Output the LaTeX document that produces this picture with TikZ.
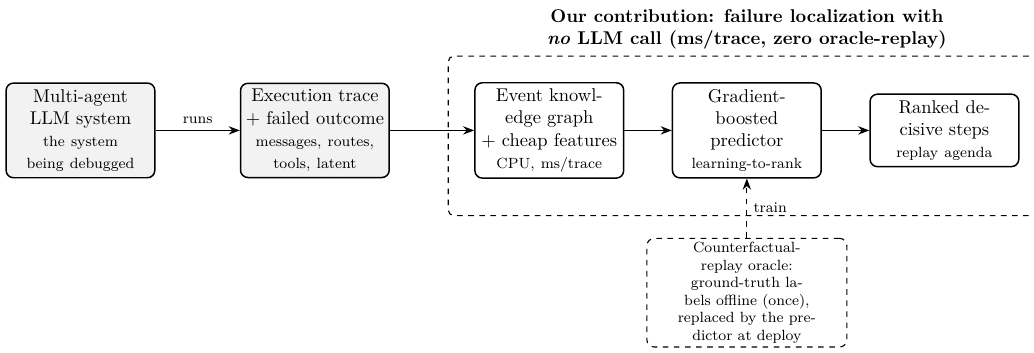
\documentclass[tikz,border=0pt]{standalone}
\usepackage{xcolor}
\usepackage{tikz}
\usetikzlibrary{arrows.meta, positioning, fit}

\begin{document}
\begin{tikzpicture}[
  stage/.style={draw, thick, rounded corners=4pt, align=center, text width=2.65cm,
    inner xsep=2.5pt, inner ysep=3.3pt},
  given/.style={stage, fill=gray!10},
  flow/.style={-{Stealth[length=6pt,width=4.5pt]}, thick}]
  \useasboundingbox (-43.5pt,70.5pt) rectangle (515.5pt,-120.3pt);
  \node[given] (sys) at (0,0) {Multi-agent LLM system\\{\footnotesize the system being debugged}};
  \node[given, right=1.6cm of sys] (trace) {Execution trace\\+ failed outcome\\{\footnotesize messages, routes, tools, latent}};
  \node[stage, right=1.6cm of trace] (ekg) {Event knowledge graph\\+ cheap features\\{\footnotesize CPU, ms/trace}};
  \node[stage, right=0.9cm of ekg] (pred) {Gradient-boosted predictor\\{\footnotesize learning-to-rank}};
  \node[stage, right=0.9cm of pred] (rank) {Ranked decisive steps\\{\footnotesize replay agenda}};
  \coordinate[below=6pt of pred] (floor);
  \node[draw, dashed, semithick, rounded corners=3pt, inner sep=14pt, fit=(ekg)(rank)(floor),
    label={[align=center, font=\bfseries]above:Our contribution: failure localization with\\\textit{no} LLM call (ms/trace, zero oracle-replay)}] (contrib) {};
  \node[draw, dashed, semithick, rounded corners=4pt, align=center, font=\footnotesize,
    minimum width=3.8cm, inner ysep=2pt, below=32pt of pred] (oracle)
    {Counterfactual-\\replay oracle:\\ground-truth la-\\bels offline (once),\\replaced by the pre-\\dictor at deploy};
  \draw[flow] (sys) -- node[above, font=\footnotesize] {runs} (trace);
  \draw[flow] (trace) -- (ekg);
  \draw[flow] (ekg) -- (pred);
  \draw[flow] (pred) -- (rank);
  \draw[flow, dashed, semithick] (oracle) -- node[right, font=\footnotesize] {train} (pred);
\end{tikzpicture}
\end{document}
